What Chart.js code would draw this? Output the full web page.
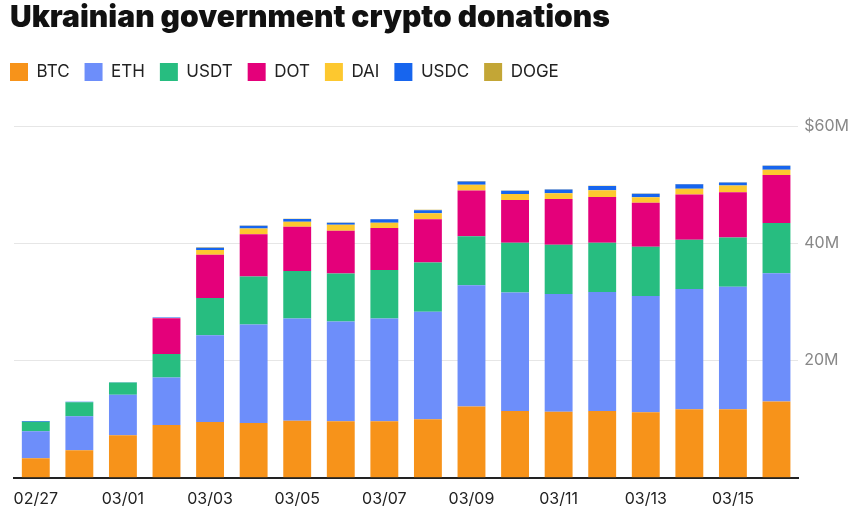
<!DOCTYPE html>
<html>
<head>
<meta charset="utf-8">
<script src="https://cdn.jsdelivr.net/npm/chart.js@4/dist/chart.umd.min.js"></script>
<style>
  html, body { margin: 0; padding: 0; background: #fff; }
  #wrap { width: 863px; height: 513px; position: relative; }
</style>
</head>
<body>
<div id="wrap"><canvas id="c"></canvas></div>
<script>
// Categories (dates)
const dates = ['02/27','02/28','03/01','03/02','03/03','03/04','03/05','03/06','03/07','03/08','03/09','03/10','03/11','03/12','03/13','03/14','03/15','03/16'];
// Series values, in millions of US dollars
const btc  = [3.35, 4.7, 7.25, 9.0, 9.5, 9.35, 9.75, 9.65, 9.65, 10.0, 12.15, 11.4, 11.25, 11.4, 11.2, 11.7, 11.7, 13.0];
const eth  = [4.6, 5.8, 6.9, 8.1, 14.8, 16.8, 17.4, 17.0, 17.5, 18.3, 20.7, 20.2, 20.1, 20.3, 19.8, 20.5, 20.9, 21.9];
const usdt = [1.6, 2.4, 2.1, 4.0, 6.35, 8.2, 8.1, 8.2, 8.3, 8.4, 8.35, 8.5, 8.4, 8.4, 8.4, 8.4, 8.4, 8.55];
const dot  = [0, 0, 0, 6.1, 7.4, 7.2, 7.55, 7.3, 7.15, 7.4, 7.8, 7.3, 7.8, 7.8, 7.5, 7.7, 7.7, 8.2];
const dai  = [0, 0, 0, 0.05, 0.8, 0.95, 0.85, 1.0, 0.9, 1.0, 1.0, 1.0, 1.0, 1.15, 0.95, 1.0, 1.15, 0.9];
const usdc = [0.15, 0.05, 0.05, 0.1, 0.4, 0.5, 0.5, 0.35, 0.6, 0.55, 0.55, 0.55, 0.6, 0.7, 0.6, 0.75, 0.5, 0.65];
const doge = [0, 0, 0, 0, 0.05, 0.05, 0.05, 0.05, 0.05, 0.05, 0.05, 0.05, 0.05, 0.05, 0.05, 0.05, 0.05, 0.05];
// Y tick values shown
const yTicks = [20, 40, 60];

const seriesNames = ['BTC','ETH','USDT','DOT','DAI','USDC','DOGE'];
const seriesData = [btc, eth, usdt, dot, dai, usdc, doge];
const seriesColors = ['#F7931A','#6D8EFA','#27BD80','#E4007A','#FDC82F','#1765EE','#C3A636'];

const datasets = seriesNames.map((name, i) => ({
  label: name,
  data: seriesData[i],
  backgroundColor: seriesColors[i],
  borderWidth: 0,
  xAxisID: 'x',
  yAxisID: 'y',
  barPercentage: 0.64,
  categoryPercentage: 1.0
}));

const shiftHeader = {
  id: 'shiftHeader',
  afterLayout(chart) {
    if (chart.titleBlock) { chart.titleBlock.left += 10; chart.titleBlock.right += 10; }
    if (chart.legend) { chart.legend.left -= 5; chart.legend.right -= 5; }
  }
};

new Chart(document.getElementById('c'), {
  type: 'bar',
  data: { labels: dates, datasets },
  plugins: [shiftHeader],
  options: {
    responsive: true,
    maintainAspectRatio: false,
    animation: false,
    layout: { padding: { left: 0, right: 8, top: 0, bottom: 0 } },
    plugins: {
      title: {
        display: true,
        text: 'Ukrainian government crypto donations',
        align: 'start',
        color: '#111',
        font: { family: 'Inter', size: 30, weight: '900' },
        padding: { top: 0, bottom: 12 }
      },
      legend: {
        display: true,
        align: 'start',
        labels: {
          boxWidth: 18,
          boxHeight: 18,
          padding: 15,
          color: '#222',
          font: { family: 'Inter', size: 17 }
        }
      },
      tooltip: { enabled: false }
    },
    scales: {
      x: {
        stacked: true,
        grid: { display: false },
        border: { display: true, color: '#222', width: 2 },
        ticks: {
          autoSkip: false,
          maxRotation: 0,
          padding: 4,
          color: '#222',
          font: { family: 'Inter', size: 16 },
          callback: (v, i) => (i % 2 === 0 ? dates[i] : '')
        }
      },
      padTop: {
        type: 'linear',
        axis: 'x',
        position: 'top',
        display: true,
        grid: { display: false },
        border: { display: false },
        ticks: { display: false },
        afterFit(s) { s.height = 35; }
      },
      pad: {
        type: 'linear',
        axis: 'y',
        position: 'left',
        display: true,
        grid: { display: false },
        border: { display: false },
        ticks: { display: false },
        afterFit(s) { s.width = 14; }
      },
      y: {
        stacked: true,
        position: 'right',
        min: 0,
        max: 60,
        afterBuildTicks(s) { s.ticks = [0].concat(yTicks).map(v => ({ value: v })); },
        grid: { color: '#e6e6e6', lineWidth: 1, drawTicks: false },
        border: { display: false },
        ticks: {
          padding: 6,
          color: '#888',
          font: { family: 'Inter', size: 16 },
          callback: v => (v === 0 ? '' : (v === 60 ? '$' + v + 'M' : v + 'M'))
        }
      }
    }
  }
});
</script>
</body>
</html>
